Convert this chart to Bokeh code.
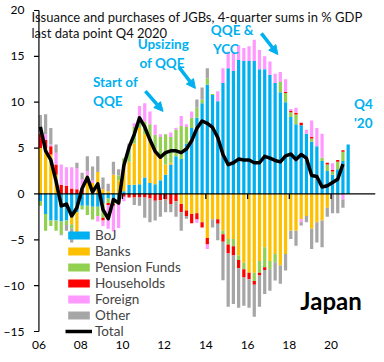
import numpy as np
from bokeh.plotting import figure
from bokeh.models import (ColumnDataSource, Label, Arrow, NormalHead, Legend,
                          LegendItem, FixedTicker, Range1d)
from bokeh.embed import file_html
from bokeh.resources import INLINE

years = list(range(2006, 2021))
quarters = [f"{y}Q{q}" for y in years for q in range(1, 5)]
N = None  # not yet published for the last quarter

boj = [-0.8, -2.2, -2.9, -2.9, -3.0, -2.9, -2.3, -2.0, -1.3, -1.3, -1.4, -1.4,
       -1.0, -0.5, -0.6, -0.6, 0.3, 1.0, 1.0, 1.05, 1.8, 1.2, 1.05, 1.5,
       2.1, 3.2, 4.1, 3.8, 5.5, 7.2, 8.3, 9.9, 11.9, 10.8, 10.1, 12.1,
       13.7, 13.4, 14.6, 14.5, 14.5, 14.5, 13.6, 13.6, 13.0, 12.1, 11.1, 10.0,
       8.4, 7.6, 7.5, 6.55, 5.7, 5.2, 3.6, 2.5, 2.1, 2.7, 3.6, 5.4]
banks = [5.0, 5.0, 4.3, 2.1, 0.0, 0.0, -1.0, -2.4, 0.0, 2.0, 1.2, 2.4,
         0.5, 0.3, 2.1, 1.5, 2.8, 2.5, 4.5, 6.15, 4.7, 4.6, 3.95, 2.7,
         1.1, 0.2, 0.0, -1.1, -1.8, -2.2, -2.1, -3.1, -4.8, -2.75, -2.75, -4.0,
         -4.9, -4.9, -6.7, -7.5, -8.6, -8.6, -7.3, -5.8, -7.3, -6.55, -7.8, -6.55,
         -4.0, -4.0, -2.75, -2.4, -3.8, -3.1, -2.9, -1.5, 0.0, 0.0, 0.0, N]
pension = [-0.5, -1.8, -0.6, -1.1, -1.4, -0.5, -0.5, -0.5, -0.4, -1.0, -1.4, -1.0,
           -1.6, -0.5, -0.5, 0.5, 0.8, 1.4, 1.8, 1.1, 1.4, 1.8, 1.45, 2.0,
           3.3, 2.8, 2.9, 3.6, 1.8, 1.1, 1.1, 0.4, 0.7, 0.1, 0.0, -0.4,
           -0.6, -0.8, -0.5, -0.7, 0.0, -0.9, -1.3, -2.2, -0.9, -0.9, 1.1, 1.0,
           0.5, 1.05, 0.0, 0.0, 0.35, 0.0, 0.35, 0.7, 0.35, 0.8, 1.0, N]
households = [1.6, 0.9, 0.9, 1.1, 1.0, 0.9, 0.6, 0.5, 0.5, 0.0, 0.0, 0.0,
              -0.3, -0.2, -0.2, -0.3, -0.3, -0.4, -0.4, -0.4, -0.4, -0.5, -0.75, -0.7,
              -0.6, -1.1, -0.8, -0.9, -0.6, -1.0, -0.7, -0.55, -0.7, 0.0, -0.5, -0.8,
              -1.0, -1.0, -0.9, -0.9, -0.7, -0.4, -0.3, -0.3, 0.0, 0.0, 0.0, 0.15,
              0.15, 0.2, 0.25, 0.0, 0.15, 0.0, 0.0, 0.2, 0.2, 0.2, 0.15, N]
foreign = [0.1, 0.6, 0.2, 1.3, 2.2, 2.0, 2.3, 2.3, 1.1, 0.5, 0.3, -0.6,
           -0.6, -2.6, -2.8, -2.8, -0.5, 0.3, 0.4, 1.3, 2.0, 1.4, 1.1, 0.3,
           0.0, 0.5, 0.2, 1.1, 0.3, 0.7, -0.35, 0.0, -0.5, 0.0, 1.1, 1.6,
           1.8, 2.0, 1.6, 1.4, 1.6, 2.3, 2.1, 1.4, 1.45, 1.0, 1.1, 1.35,
           0.2, 0.55, -0.35, 0.45, 1.8, 2.0, 2.6, 0.0, 0.7, 0.0, -0.6, N]
other = [1.9, 2.2, 1.8, 0.9, -0.1, -0.6, -1.5, 0.6, 0.7, 1.6, 1.5, 1.7,
         1.3, 0.8, 1.4, 0.7, 0.0, 0.3, -0.8, -0.9, -2.2, -2.6, -2.15, -1.8,
         -1.4, -0.9, -1.7, -2.0, -0.3, 0.0, 0.9, 1.3, 1.1, -0.9, -1.8, -4.2,
         -5.8, -5.3, -4.3, -3.1, -3.1, -3.5, -3.4, -2.6, -2.35, -2.0, -2.0, -1.8,
         -0.9, -1.65, -0.35, -0.7, -2.2, -2.2, -2.9, -1.0, -2.1, -2.1, -0.9, N]

series_names = ["BoJ", "Banks", "Pension Funds", "Households", "Foreign", "Other"]
series_values = [boj, banks, pension, households, foreign, other]
series_colors = ["#00B0F0", "#FFC000", "#92D050", "#FF0000", "#FF99FF", "#A6A6A6"]
y_ticks = [-15, -10, -5, 0, 5, 10, 15, 20]

FONT = "Lato"
BLUE = "#00B0F0"

x = np.array([int(qq[:4]) + (int(qq[-1]) - 1) * 0.25 + 0.07 for qq in quarters])
vals = [np.array([np.nan if v is None else v for v in s], dtype=float) for s in series_values]
total = np.sum(vals, axis=0)  # NaN where components are missing

X0, X1 = 2005.596, 2022.13
Y0, Y1 = -15.87, 21.09
p = figure(width=376, height=354, output_backend="svg", toolbar_location=None,
           x_range=Range1d(X0, X1), y_range=Range1d(Y0, Y1))
p.min_border_left = 27
p.min_border_right = 1
p.min_border_top = 0
p.min_border_bottom = 15
p.outline_line_color = None
p.xgrid.grid_line_color = None
p.ygrid.grid_line_color = None

pos_base = np.zeros(len(x))
neg_base = np.zeros(len(x))
renderers = []
for name, v, c in zip(series_names, vals, series_colors):
    v0 = np.nan_to_num(v)
    pos = np.clip(v0, 0, None)
    neg = np.clip(v0, None, 0)
    src = ColumnDataSource(dict(
        x=np.concatenate([x, x]),
        bottom=np.concatenate([pos_base, neg_base]),
        top=np.concatenate([pos_base + pos, neg_base + neg])))
    r = p.vbar(x="x", bottom="bottom", top="top", width=0.155, source=src,
               fill_color=c, line_color=None)
    renderers.append(r)
    pos_base = pos_base + pos
    neg_base = neg_base + neg

# value axis line (at 2006) with outward ticks
ax_x = years[0]
tick_len = 5 / 21.05
p.segment(x0=[ax_x], x1=[ax_x], y0=[y_ticks[0]], y1=[y_ticks[-1]], line_color="black", line_width=1.2)
p.segment(x0=[ax_x - tick_len] * len(y_ticks), x1=[ax_x] * len(y_ticks), y0=y_ticks, y1=y_ticks,
          line_color="black", line_width=1.2)

# zero line with year ticks hanging below it
tick_years = [y for y in years if y % 2 == 0]
p.segment(x0=[ax_x], x1=[X1], y0=[0], y1=[0], line_color="black", line_width=1.3)
p.segment(x0=tick_years[1:], x1=tick_years[1:], y0=[0] * (len(tick_years) - 1),
          y1=[-0.55] * (len(tick_years) - 1), line_color="black", line_width=1.3)

r_total = p.line(x=x, y=total, line_color="black", line_width=3.5, line_join="round")

# axes (labels only; lines drawn above)
p.yaxis.ticker = FixedTicker(ticks=y_ticks)
p.yaxis.major_tick_in = 0
p.yaxis.major_tick_out = 0
p.yaxis.minor_tick_line_color = None
p.yaxis.major_tick_line_color = None
p.yaxis.axis_line_color = None
p.yaxis.major_label_standoff = 6
p.yaxis.major_label_text_font = FONT
p.yaxis.major_label_text_font_size = "12px"
p.yaxis.major_label_text_color = "black"

p.xaxis.ticker = FixedTicker(ticks=tick_years)
p.xaxis.major_label_overrides = {y: f"{y % 100:02d}" for y in tick_years}
p.xaxis.axis_line_color = None
p.xaxis.major_tick_line_color = None
p.xaxis.minor_tick_line_color = None
p.xaxis.major_tick_in = 0
p.xaxis.major_tick_out = 0
p.xaxis.major_label_standoff = 1
p.xaxis.major_label_text_font = FONT
p.xaxis.major_label_text_font_size = "12px"
p.xaxis.major_label_text_color = "black"

# legend
items = [LegendItem(label=n, renderers=[r]) for n, r in zip(series_names, renderers)]
items.append(LegendItem(label="Total", renderers=[r_total]))
legend = Legend(items=items, location=(35, 0), orientation="vertical")
legend.glyph_width = 27
legend.glyph_height = 10
legend.label_height = 15
legend.spacing = 0
legend.padding = 0
legend.margin = 0
legend.label_standoff = 3
legend.label_text_font = FONT
legend.label_text_font_size = "13.5px"
legend.background_fill_alpha = 0
legend.border_line_color = None
p.add_layout(legend)

# texts
p.add_layout(Label(x=X0 + 0.05, y=19.34, text="Issuance and purchases of JGBs, 4-quarter sums in % GDP",
                   text_font=FONT, text_font_size="13px", text_baseline="middle", text_color="#111111"))
p.add_layout(Label(x=X0 + 0.05, y=17.5, text="last data point Q4 2020",
                   text_font=FONT, text_font_size="13px", text_baseline="middle", text_color="#111111"))

def blue_text(xv, yv, t):
    p.add_layout(Label(x=xv, y=yv, text=t, text_font=FONT, text_font_size="13.5px",
                       text_font_style="bold", text_color=BLUE, text_baseline="middle"))

blue_text(2008.59, 12.2, "Start of")
blue_text(2008.59, 10.1, "QQE")
blue_text(2010.73, 16.3, "Upsizing")
blue_text(2010.82, 14.3, "of QQE")
blue_text(2014.24, 17.9, "QQE &")
blue_text(2014.34, 15.8, "YCC")
blue_text(2021.1, 9.8, "Q4")
blue_text(2021.1, 7.7, "'20")

for xs, ys, xe, ye in [(2011.1, 11.2, 2011.95, 9.0), (2012.72, 13.8, 2013.5, 11.5),
                       (2016.66, 17.5, 2017.45, 15.2)]:
    p.add_layout(Arrow(end=NormalHead(size=9, fill_color=BLUE, line_color=BLUE),
                       x_start=xs, y_start=ys, x_end=xe, y_end=ye,
                       line_color=BLUE, line_width=3.5))

p.add_layout(Label(x=2020.0, y=-11.6, text="Japan", text_font=FONT, text_font_size="24px",
                   text_font_style="bold", text_align="center", text_baseline="middle",
                   text_color="black"))

open("out.html", "w").write(file_html(p, INLINE))
